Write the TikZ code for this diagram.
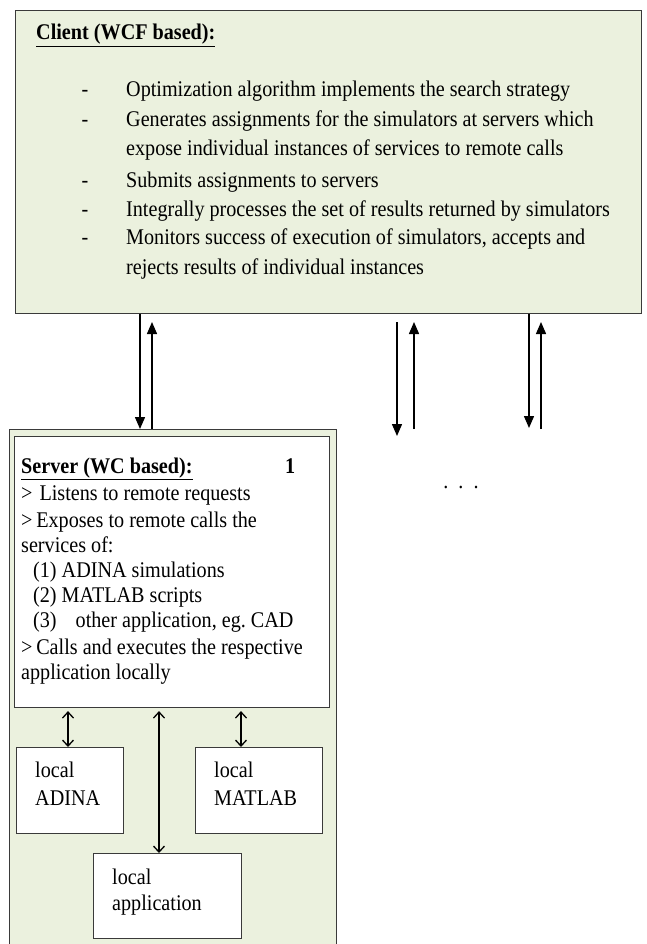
\documentclass[tikz,border=0pt]{standalone}
\usepackage{fontspec}
\setmainfont[FakeStretch=0.9]{Liberation Serif}
\usetikzlibrary{arrows.meta}
\definecolor{boxgreen}{HTML}{EBF1DE}
\definecolor{boxline}{HTML}{3A3A3A}
\frenchspacing

\begin{document}
\begin{tikzpicture}[x=1pt,y=-1pt,
  greenbox/.style={draw=boxline,fill=boxgreen,line width=1.3pt,anchor=north west,inner sep=0pt},
  whitebox/.style={draw=boxline,fill=white,line width=1.1pt,anchor=north west,inner sep=0pt},
  txt/.style={anchor=base west,inner sep=0pt,font=\fontsize{22.4}{26}\selectfont},
  link/.style={line width=1.4pt,-{Triangle[length=12pt,width=10pt]}},
  dbl/.style={line width=1.3pt,{Straight Barb[length=6pt,width=11pt]}-{Straight Barb[length=6pt,width=11pt]}}]

\clip (0,0) rectangle (646,944);
\fill[white] (0,0) rectangle (646,944);

\node[greenbox,minimum width=626pt,minimum height=303pt] (client) at (15,10) {};
\node[txt] (clienthead) at (36,40) {\underline{\textbf{Client (WCF based):}}};
\foreach \y [count=\i] in {90,120,180,209,237}
  \node[txt,anchor=base] (dash\i) at (85,\y+7) {-};
\foreach \y/\t [count=\i] in {90/{Optimization algorithm implements the search strategy},
  120/{Generates assignments for the simulators at servers which},
  149/{expose individual instances of services to remote calls},
  180/{Submits assignments to servers},
  209/{Integrally processes the set of results returned by simulators},
  237/{Monitors success of execution of simulators, accepts and},
  267/{rejects results of individual instances}}
  \node[txt] (cl\i) at (126,\y+7) {\t};

\node[greenbox,minimum width=327pt,minimum height=530pt] (serverbg) at (9,429) {};
\node[whitebox,minimum width=315pt,minimum height=271pt] (server) at (14,436) {};
\node[txt] (serverhead) at (21,473) {\underline{\textbf{Server (WC based):}}};
\node[txt] (servernum) at (285,473) {\textbf{1}};
\foreach \x/\y/\t [count=\i] in {21/493/{>\hspace{7pt}Listens to remote requests},
  21/520/{>\,Exposes to remote calls the},
  21/545/{services of:},
  33/570/{(1) ADINA simulations},
  33/595/{(2) MATLAB scripts},
  33/620/{(3)\hspace{19pt}other application, eg. CAD},
  21/647/{>\,Calls and executes the respective},
  21/672/{application locally}}
  \node[txt] (sl\i) at (\x,\y+7) {\t};

\node[whitebox,minimum width=107pt,minimum height=86pt] (adina) at (16,747) {};
\node[whitebox,minimum width=127pt,minimum height=86pt] (matlab) at (195,747) {};
\node[whitebox,minimum width=148pt,minimum height=85pt] (app) at (93,853) {};
\node[txt] (adina1) at (35,777) {local};
\node[txt] (adina2) at (35,805) {ADINA};
\node[txt] (matlab1) at (214,777) {local};
\node[txt] (matlab2) at (214,805) {MATLAB};
\node[txt] (app1) at (112,884) {local};
\node[txt] (app2) at (112,910) {application};

\node[txt,anchor=base] (dots) at (461,488) {.\ \ .\ \ .};

\coordinate (d1) at (140,0);
\coordinate (u1) at (152,322);
\coordinate (d2) at (397,322);
\coordinate (d2e) at (397,436);
\coordinate (u2) at (414,322);
\coordinate (u2s) at (414,429);
\coordinate (d3) at (529,428);
\coordinate (u3) at (541,322);
\coordinate (u3s) at (541,429);
\draw[link] (client.south -| d1) -- (serverbg.north -| d1);
\draw[link] (serverbg.north -| u1) -- (u1);
\draw[link] (d2) -- (d2e);
\draw[link] (u2s) -- (u2);
\draw[link] (client.south -| d3) -- (d3);
\draw[link] (u3s) -- (u3);

\coordinate (ma) at (68,0);
\coordinate (mm) at (241,0);
\coordinate (mp) at (159,0);
\draw[dbl,shorten <=3pt] (server.south -| ma) -- (adina.north -| ma);
\draw[dbl,shorten <=3pt] (server.south -| mm) -- (matlab.north -| mm);
\draw[dbl,shorten <=3pt] (server.south -| mp) -- (app.north -| mp);
\end{tikzpicture}
\end{document}
